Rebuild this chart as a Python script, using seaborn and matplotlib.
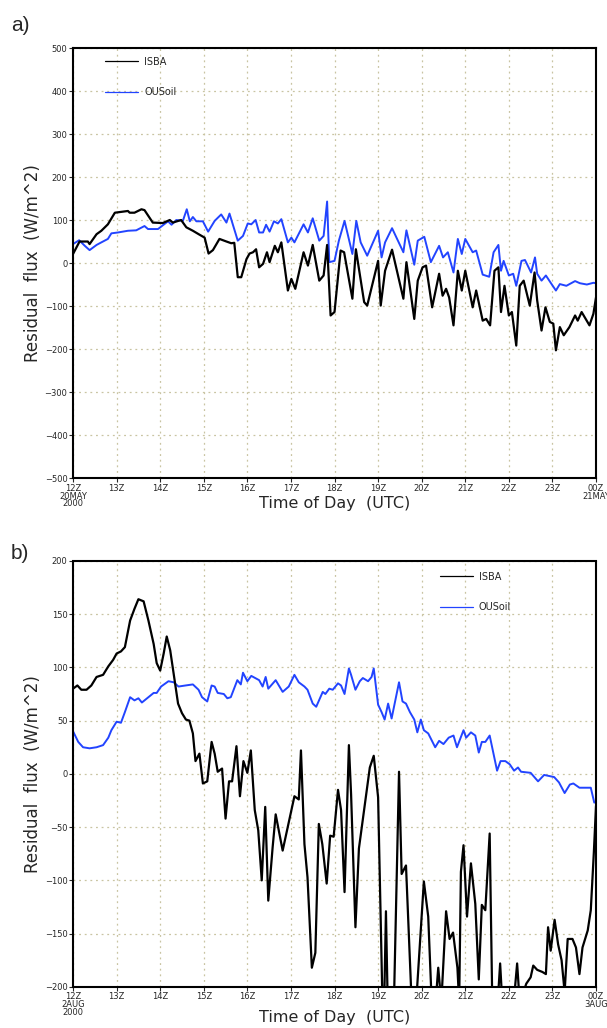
import pandas as pd
import seaborn as sns
import matplotlib.pyplot as plt
from matplotlib.lines import Line2D

# (a) 20 May 2000, hours after 12Z
a_isba_h = [0, 0.15, 0.34, 0.38, 0.54, 0.65, 0.8, 0.96, 1.26, 1.3, 1.41, 1.57, 1.64, 1.83, 2.06, 2.22, 2.29, 2.48,
            2.6, 2.75, 2.9, 3.02, 3.11, 3.21, 3.36, 3.52, 3.63, 3.7, 3.78, 3.86, 3.98, 4.05, 4.13, 4.2, 4.27, 4.36,
            4.45, 4.51, 4.63, 4.7, 4.78, 4.93, 5.01, 5.1, 5.29, 5.39, 5.5, 5.65, 5.75, 5.83, 5.91, 6.0, 6.14, 6.22,
            6.41, 6.49, 6.68, 6.75, 7.0, 7.06, 7.16, 7.32, 7.58, 7.65, 7.83, 7.91, 8.02, 8.1, 8.24, 8.4, 8.48, 8.56,
            8.63, 8.73, 8.83, 8.92, 9.0, 9.17, 9.25, 9.4, 9.48, 9.57, 9.67, 9.76, 9.82, 9.9, 10.0, 10.07, 10.17,
            10.25, 10.34, 10.48, 10.59, 10.65, 10.75, 10.84, 10.94, 11.02, 11.08, 11.17, 11.26, 11.39, 11.52,
            11.58, 11.67, 11.85, 11.94, 12.0]
a_isba = [21, 50, 50, 44, 67, 75, 90, 117, 121, 117, 117, 125, 123, 94, 93, 100, 94, 100,
          83, 75, 66, 59, 22, 30, 56, 50, 46, 47, -33, -33, 9, 22, 25, 32, -10, -2,
          25, 2, 40, 25, 48, -64, -37, -60, 25, -6, 42, -41, -29, 42, -122, -114, 29, 25,
          -83, 32, -91, -99, 5, -99, -18, 31, -83, 2, -130, -41, -10, -6, -103, -25, -76, -60,
          -80, -145, -18, -64, -18, -103, -64, -134, -130, -145, -18, -10, -114, -53, -122, -114, -192,
          -53, -41, -99, -22, -87, -157, -103, -137, -141, -203, -149, -168, -149, -122,
          -134, -114, -145, -118, -80]

a_ousoil_h = [0, 0.14, 0.27, 0.38, 0.54, 0.65, 0.8, 0.88, 1.03, 1.26, 1.45, 1.64, 1.72, 1.95, 2.18, 2.26, 2.37,
              2.52, 2.61, 2.68, 2.75, 2.83, 2.98, 3.1, 3.25, 3.4, 3.52, 3.59, 3.78, 3.9, 4.01, 4.09, 4.19, 4.27,
              4.36, 4.43, 4.51, 4.61, 4.7, 4.78, 4.93, 5.01, 5.08, 5.29, 5.39, 5.5, 5.65, 5.75, 5.83, 5.88, 6.0,
              6.1, 6.23, 6.41, 6.5, 6.6, 6.75, 7.0, 7.08, 7.16, 7.32, 7.58, 7.65, 7.83, 7.91, 8.06, 8.21, 8.4,
              8.49, 8.6, 8.73, 8.83, 8.92, 9.0, 9.17, 9.25, 9.4, 9.55, 9.65, 9.76, 9.82, 9.88, 10.0, 10.1, 10.17,
              10.29, 10.37, 10.51, 10.6, 10.65, 10.75, 10.85, 10.98, 11.08, 11.17, 11.32, 11.52, 11.63, 11.79,
              11.94, 12.0]
a_ousoil = [44, 53, 40, 30, 42, 48, 56, 69, 71, 75, 76, 86, 79, 79, 97, 89, 100,
            98, 125, 97, 107, 97, 97, 73, 98, 113, 94, 115, 52, 63, 92, 90, 100, 71,
            71, 89, 73, 97, 92, 102, 48, 59, 48, 90, 71, 104, 52, 63, 143, 2, 5,
            52, 98, 21, 98, 48, 17, 75, 13, 48, 81, 25, 76, -4, 52, 61, 2, 40,
            13, 25, -22, 56, 21, 56, 25, 29, -27, -32, 25, 42, -18, 5, -29, -25, -53,
            5, 7, -22, 13, -25, -41, -29, -49, -64, -49, -53, -42, -47, -50,
            -46, -47]

# (b) 2 Aug 2000, hours after 12Z
b_isba_h = [0, 0.1, 0.19, 0.31, 0.42, 0.54, 0.69, 0.81, 0.92, 1.0, 1.1, 1.19, 1.31, 1.41, 1.5, 1.62, 1.73, 1.85,
            1.92, 2.0, 2.08, 2.15, 2.23, 2.31, 2.41, 2.5, 2.59, 2.67, 2.75, 2.81, 2.9, 2.98, 3.08, 3.18, 3.25,
            3.32, 3.42, 3.5, 3.58, 3.65, 3.75, 3.83, 3.91, 4.0, 4.08, 4.17, 4.25, 4.33, 4.41, 4.48, 4.58, 4.65,
            4.81, 5.08, 5.18, 5.23, 5.31, 5.38, 5.48, 5.56, 5.64, 5.72, 5.82, 5.9, 5.98, 6.08, 6.15, 6.23, 6.33,
            6.38, 6.48, 6.56, 6.81, 6.9, 7.0, 7.1, 7.14, 7.18, 7.22, 7.35, 7.48, 7.54, 7.64, 7.77, 7.85, 8.05,
            8.15, 8.23, 8.3, 8.38, 8.45, 8.56, 8.64, 8.72, 8.82, 8.86, 8.9, 8.96, 9.04, 9.13, 9.23, 9.31, 9.38,
            9.46, 9.56, 9.62, 9.72, 9.8, 9.85, 10.0, 10.1, 10.19, 10.25, 10.4, 10.5, 10.56, 10.65, 10.77, 10.85,
            10.9, 10.96, 11.05, 11.13, 11.21, 11.28, 11.35, 11.46, 11.54, 11.62, 11.69, 11.81, 11.88, 11.95, 12.0]
b_isba = [80, 83, 79, 79, 83, 91, 93, 101, 107, 113, 115, 119, 144, 155, 164, 162, 144, 122,
          104, 97, 113, 129, 116, 94, 66, 57, 51, 50, 38, 12, 19, -9, -7, 30, 19,
          2, 5, -42, -7, -7, 26, -21, 12, 1, 22, -34, -53, -100, -31, -119, -69, -38,
          -72, -21, -24, 22, -66, -97, -182, -168, -47, -66, -103, -58, -59, -15, -34, -111, 27,
          -19, -144, -70, 6, 17, -22, -215, -215, -129, -215, -240, 2, -94, -86, -215, -230, -101,
          -134, -215, -225, -182, -215, -129, -155, -149, -182, -215, -92, -67, -134, -84, -122, -193, -123,
          -128, -56, -215, -230, -178, -215, -230, -220, -178, -215, -197, -191, -180, -184, -186, -188,
          -144, -166, -137, -160, -175, -205, -155, -155, -163, -188, -163, -147, -128, -74, -30]

b_ousoil_h = [0, 0.12, 0.23, 0.38, 0.54, 0.69, 0.81, 0.88, 1.0, 1.1, 1.19, 1.31, 1.41, 1.5, 1.58, 1.73, 1.85,
              1.92, 2.02, 2.19, 2.31, 2.42, 2.58, 2.75, 2.88, 2.96, 3.08, 3.18, 3.25, 3.32, 3.46, 3.54, 3.62,
              3.77, 3.85, 3.9, 4.0, 4.09, 4.27, 4.35, 4.42, 4.48, 4.65, 4.81, 4.95, 5.08, 5.18, 5.31, 5.38, 5.5,
              5.58, 5.73, 5.79, 5.88, 5.96, 6.08, 6.15, 6.23, 6.33, 6.38, 6.48, 6.58, 6.65, 6.77, 6.85, 6.9,
              7.0, 7.08, 7.15, 7.23, 7.31, 7.41, 7.48, 7.56, 7.64, 7.73, 7.83, 7.9, 7.98, 8.05, 8.15, 8.31, 8.4,
              8.5, 8.62, 8.73, 8.81, 8.96, 9.02, 9.13, 9.23, 9.31, 9.38, 9.46, 9.56, 9.73, 9.81, 9.92, 10.02,
              10.12, 10.21, 10.28, 10.5, 10.67, 10.81, 11.04, 11.15, 11.28, 11.4, 11.48, 11.62, 11.73, 11.88,
              11.96]
b_ousoil = [40, 30, 25, 24, 25, 27, 34, 41, 49, 48, 58, 72, 69, 71, 67, 72, 76,
            76, 82, 87, 86, 82, 83, 84, 79, 72, 68, 83, 82, 76, 75, 71, 72,
            88, 84, 95, 87, 92, 88, 82, 91, 80, 88, 77, 82, 93, 86, 82, 79, 66,
            63, 77, 75, 80, 79, 85, 83, 75, 99, 93, 79, 87, 90, 87, 91, 99,
            65, 58, 51, 66, 52, 72, 86, 68, 66, 58, 51, 39, 51, 41, 38, 25, 31,
            28, 34, 36, 25, 41, 34, 39, 36, 20, 30, 30, 36, 3, 12, 12, 9,
            3, 6, 2, 1, -7, -1, -3, -8, -18, -10, -9, -13, -13, -13,
            -27]

hour_labels = ['12Z', '13Z', '14Z', '15Z', '16Z', '17Z', '18Z', '19Z', '20Z', '21Z', '22Z', '23Z', '00Z']
a_dates = ('20MAY\n2000', '21MAY')
b_dates = ('2AUG\n2000', '3AUG')

sns.set_style('white')
plt.rcParams['font.family'] = ['DejaVu Sans']

black = '#000000'
blue = '#2244ff'
gridc = '#c9c4a2'

fig = plt.figure(figsize=(6.07, 10.28), dpi=100)
ax_a = fig.add_axes([0.1203, 0.535, 0.8616, 0.4183])
ax_b = fig.add_axes([0.1203, 0.040, 0.8616, 0.4144])


def draw(ax, isba_h, isba, ous_h, ous, ylim, ystep, dates, leg_pos, xlab_y):
    d1 = pd.DataFrame({'hour': isba_h, 'flux': isba})
    d2 = pd.DataFrame({'hour': ous_h, 'flux': ous})
    sns.lineplot(data=d2, x='hour', y='flux', ax=ax, color=blue, lw=1.4, estimator=None, sort=False)
    sns.lineplot(data=d1, x='hour', y='flux', ax=ax, color=black, lw=1.6, estimator=None, sort=False)
    ax.set_xlim(0, 12)
    ax.set_ylim(*ylim)
    ax.set_xticks(range(13))
    labs = list(hour_labels)
    labs[0] = labs[0] + '\n' + dates[0]
    labs[-1] = labs[-1] + '\n' + dates[1]
    ax.set_xticklabels(labs, fontsize=6, linespacing=0.85, va='top')
    ax.set_yticks(range(ylim[0], ylim[1] + 1, ystep))
    ax.tick_params(axis='y', labelsize=6, length=3, width=0.8, direction='out', left=True, pad=1)
    ax.tick_params(axis='x', length=3, width=0.8, direction='out', bottom=True, pad=1)
    ax.grid(True, color=gridc, linestyle=(0, (1.5, 3)), lw=0.9)
    for s in ax.spines.values():
        s.set_linestyle((0, (4, 1)))
        s.set_linewidth(1.5)
        s.set_color('black')
    ax.set_xlabel('Time of Day  (UTC)', fontsize=11.5, va='center')
    ax.xaxis.set_label_coords(0.5, xlab_y)
    ax.set_ylabel('Residual  flux  (W/m^2)', fontsize=12, va='center')
    ax.yaxis.set_label_coords(-0.077, 0.5)
    handles = [Line2D([], [], color=black, lw=0.9), Line2D([], [], color=blue, lw=0.9)]
    ax.legend(handles, ['ISBA', 'OUSoil'], loc='upper left', bbox_to_anchor=leg_pos, frameon=False,
              fontsize=7, handlelength=3.4, labelspacing=2.1, handletextpad=0.6)


draw(ax_a, a_isba_h, a_isba, a_ousoil_h, a_ousoil, (-500, 500), 100, a_dates, (0.045, 1.0), -0.06)
draw(ax_b, b_isba_h, b_isba, b_ousoil_h, b_ousoil, (-200, 200), 50, b_dates, (0.685, 0.995), -0.071)

fig.text(0.018, 0.970, 'a)', fontsize=15, family='Liberation Sans')
fig.text(0.018, 0.456, 'b)', fontsize=15, family='Liberation Sans')

fig.savefig('out.png', dpi=100)
